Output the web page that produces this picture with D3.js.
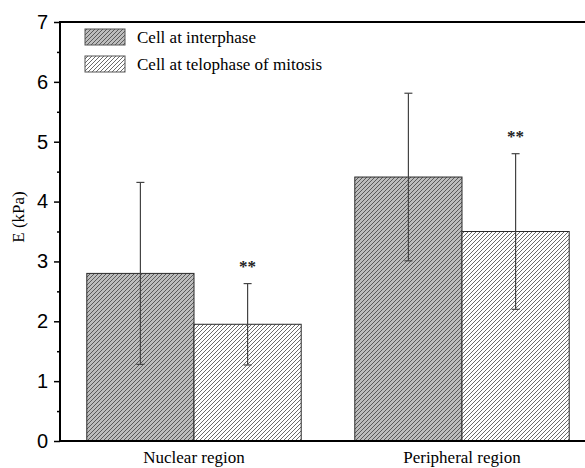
<!DOCTYPE html>
<html><head><meta charset="utf-8">
<script src="https://cdn.jsdelivr.net/npm/d3@7"></script>
<style>html,body{margin:0;padding:0;background:#fff;}</style>
</head><body>
<svg id="chart" width="585" height="468"></svg>
<script>
const categories = ["Nuclear region", "Peripheral region"];
const seriesNames = ["Cell at interphase", "Cell at telophase of mitosis"];
const interphaseMean = [2.80, 4.41];
const interphaseSD = [1.52, 1.40];
const telophaseMean = [1.95, 3.50];
const telophaseSD = [0.68, 1.30];
const significance2 = ["**", "**"];
const yTicks = [0, 1, 2, 3, 4, 5, 6, 7];
const yLabel = "E (kPa)";

const svg = d3.select("#chart");
const m = {left: 60, top: 22, right: -11, bottom: 27};
const W = 585, H = 468;
const x0 = m.left, x1 = W - m.right, yTop = m.top, yBot = H - m.bottom;

const x = d3.scaleBand().domain(categories).range([x0, x1]).paddingInner(0.2).paddingOuter(0.1);
const xs = d3.scaleBand().domain([0, 1]).range([0, x.bandwidth()]);
const y = d3.scaleLinear().domain([0, 7]).range([yBot, yTop]);

const defs = svg.append("defs");
function hatch(id, bg) {
  const p = defs.append("pattern").attr("id", id).attr("patternUnits", "userSpaceOnUse")
    .attr("width", 4).attr("height", 4);
  p.append("rect").attr("width", 4).attr("height", 4).attr("fill", bg);
  p.append("path").attr("d", "M-1,1 l2,-2 M0,4 l4,-4 M3,5 l2,-2")
    .attr("stroke", "#3a3a3a").attr("stroke-width", 0.75);
}
hatch("hatchGray", "#bdbdbd");
hatch("hatchWhite", "#ffffff");
const fills = ["url(#hatchGray)", "url(#hatchWhite)"];

const data = [];
categories.forEach((c, i) => {
  data.push({c, s: 0, mean: interphaseMean[i], sd: interphaseSD[i], sig: ""});
  data.push({c, s: 1, mean: telophaseMean[i], sd: telophaseSD[i], sig: significance2[i]});
});

// bars
svg.append("g").selectAll("rect").data(data).join("rect")
  .attr("x", d => x(d.c) + xs(d.s))
  .attr("y", d => y(d.mean))
  .attr("width", xs.bandwidth())
  .attr("height", d => y(0) - y(d.mean))
  .attr("fill", d => fills[d.s])
  .attr("stroke", "#2a2a2a").attr("stroke-width", 1);

// error bars
const eb = svg.append("g").attr("stroke", "#444").attr("stroke-width", 1.2);
data.forEach(d => {
  const cx = x(d.c) + xs(d.s) + xs.bandwidth() / 2;
  eb.append("line").attr("x1", cx).attr("x2", cx).attr("y1", y(d.mean - d.sd)).attr("y2", y(d.mean + d.sd));
  [d.mean - d.sd, d.mean + d.sd].forEach(v => {
    eb.append("line").attr("x1", cx - 4).attr("x2", cx + 4).attr("y1", y(v)).attr("y2", y(v));
  });
  if (d.sig) {
    svg.append("text").attr("x", cx).attr("y", y(d.mean + d.sd) - 12)
      .attr("text-anchor", "middle").attr("font-family", "Liberation Serif, Times New Roman, serif")
      .attr("font-size", 17).attr("font-weight", "bold").attr("fill", "#222").text(d.sig);
  }
});

// y axis
const yAxis = d3.axisLeft(y).tickValues(yTicks).tickSize(6).tickPadding(6).tickFormat(d3.format("d"));
const ya = svg.append("g").attr("transform", `translate(${x0},0)`).call(yAxis);
ya.select(".domain").remove();
ya.selectAll("line").attr("stroke", "#000").attr("stroke-width", 1.5);
ya.selectAll("text").attr("font-family", "Liberation Sans, Arial, sans-serif").attr("font-size", 20).attr("fill", "#000");
// minor ticks
const minor = d3.axisLeft(y).tickValues(yTicks.slice(0, -1).map(v => v + 0.5)).tickSize(3).tickFormat("");
const ym = svg.append("g").attr("transform", `translate(${x0},0)`).call(minor);
ym.select(".domain").remove();
ym.selectAll("line").attr("stroke", "#000").attr("stroke-width", 1.5);

// frame lines
svg.append("line").attr("x1", x0).attr("x2", x0).attr("y1", yTop - 1).attr("y2", yBot + 1).attr("stroke", "#000").attr("stroke-width", 2);
svg.append("line").attr("x1", x0 - 1).attr("x2", W).attr("y1", yTop).attr("y2", yTop).attr("stroke", "#000").attr("stroke-width", 2);
svg.append("line").attr("x1", x0 - 1).attr("x2", W).attr("y1", yBot).attr("y2", yBot).attr("stroke", "#000").attr("stroke-width", 2);

// x labels
const xAxis = d3.axisBottom(x).tickSize(0).tickPadding(10);
const xa = svg.append("g").attr("transform", `translate(0,${yBot})`).call(xAxis);
xa.select(".domain").remove();
xa.selectAll("text").attr("font-family", "Liberation Serif, Times New Roman, serif").attr("font-size", 17).attr("fill", "#000")
  .attr("dy", "0.71em");

// y label
svg.append("text").attr("transform", `translate(24,${217}) rotate(-90)`)
  .attr("text-anchor", "middle").attr("font-family", "Liberation Serif, Times New Roman, serif")
  .attr("font-size", 17).attr("fill", "#000").text(yLabel);

// legend
const lg = svg.append("g");
seriesNames.forEach((s, i) => {
  const ly = 29 + i * 27;
  lg.append("rect").attr("x", 85).attr("y", ly).attr("width", 40).attr("height", 16)
    .attr("fill", fills[i]).attr("stroke", "#555").attr("stroke-width", 1);
  lg.append("text").attr("x", 137).attr("y", ly + 14).attr("font-family", "Liberation Serif, Times New Roman, serif")
    .attr("font-size", 17).attr("fill", "#000").text(s);
});
</script>
</body></html>
